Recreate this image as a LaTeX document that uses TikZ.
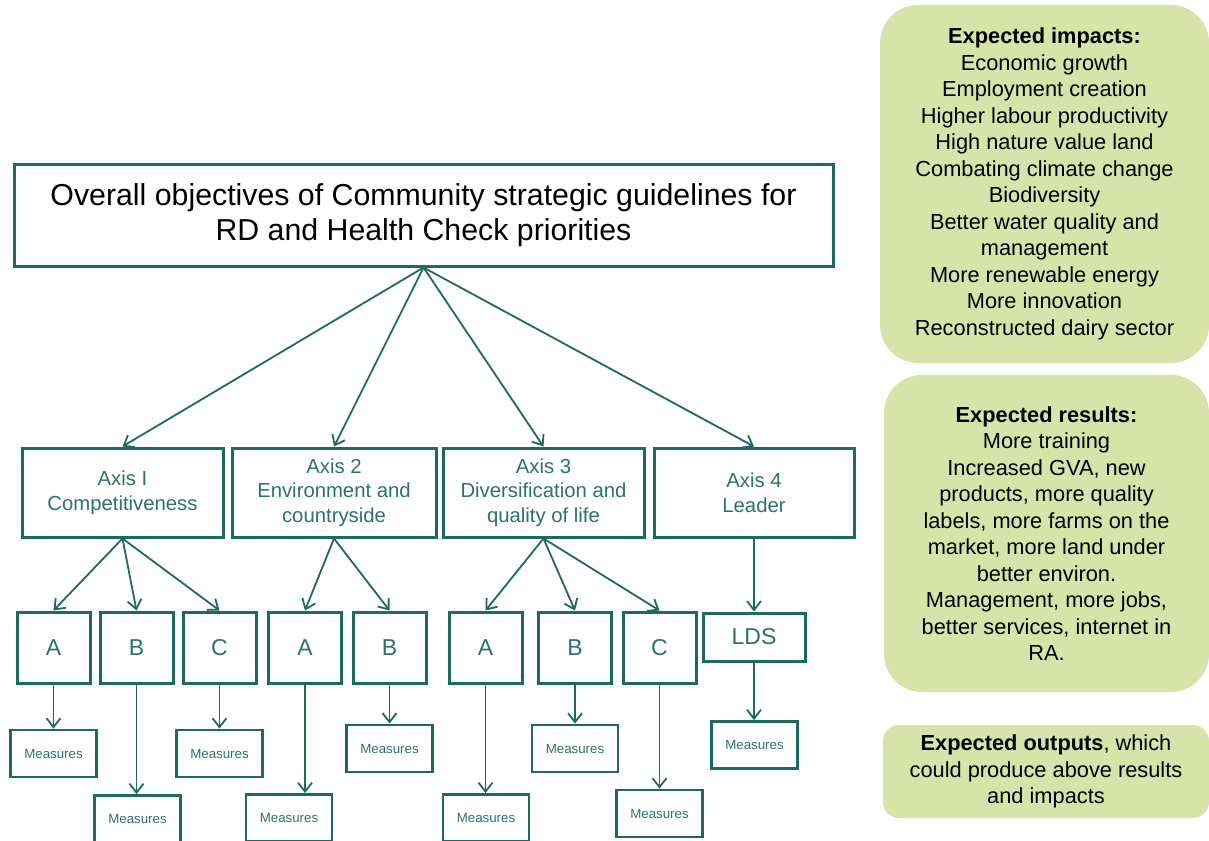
\documentclass[tikz,border=0pt]{standalone}
\usepackage{fontspec}
\setmainfont{Liberation Sans}
\usetikzlibrary{positioning}
\usetikzlibrary{arrows.meta}
\definecolor{tealline}{HTML}{1D6A60}
\definecolor{tealtext}{HTML}{2B7369}
\definecolor{limefill}{HTML}{D7E4A9}

\begin{document}
\begin{tikzpicture}[x=1pt,y=-1pt,
    box/.style={draw=tealline, line width=3pt, inner sep=0pt, text=tealtext, align=center},
    axisbox/.style={box, minimum width=201pt, minimum height=89pt, font=\fontsize{20.3}{24.5}\selectfont},
    letterbox/.style={box, minimum width=73pt, minimum height=71pt, font=\fontsize{23}{27}\selectfont},
    measbox/.style={box, line width=2.8pt, minimum width=86pt, minimum height=47pt, font=\fontsize{13.3}{15}\selectfont},
    greenbox/.style={fill=limefill, rounded corners=38pt, inner sep=0pt, align=center, font=\fontsize{21.8}{26.5}\selectfont},
    arr/.style={draw=tealline, line width=1.8pt, -{Straight Barb[length=9pt,width=14pt]}}]
    \useasboundingbox (0,0) rectangle (1209,840);
    \clip (0,0) rectangle (1209,840);
    % top box
    \node[box, text=black, minimum width=819pt, minimum height=102pt, font=\fontsize{30.3}{35}\selectfont] (top) at (423.5,215) {Overall objectives of Community strategic guidelines for\\RD and Health Check priorities};
    % axes
    \node[axisbox] (ax1) at (122.5,492.5) {Axis I\\Competitiveness};
    \node[axisbox, minimum width=204pt] (ax2) at (334,492.5) {Axis 2\\Environment and\\countryside};
    \node[axisbox] (ax3) at (543.5,492.5) {Axis 3\\Diversification and\\quality of life};
    \node[axisbox, minimum width=200pt] (ax4) at (754,492.5) {Axis 4\\Leader};
    % measure groups
    \node[letterbox] (a1) at (53.5,647.5) {A};
    \node[letterbox] (b1) at (136.5,647.5) {B};
    \node[letterbox] (c1) at (219.5,647.5) {C};
    \node[letterbox] (a2) at (305,647.5) {A};
    \node[letterbox] (b2) at (389.5,647.5) {B};
    \node[letterbox] (a3) at (485.5,647.5) {A};
    \node[letterbox] (b3) at (575,647.5) {B};
    \node[letterbox] (c3) at (659.5,647.5) {C};
    \node[letterbox, minimum width=102pt, minimum height=48pt] (lds) at (754,637) {LDS};
    % measures
    \node[measbox] (ma1) at (53.5,753.5) {Measures};
    \node[measbox] (mb1) at (137.5,819) {Measures};
    \node[measbox] (mc1) at (219.5,753.5) {Measures};
    \node[measbox] (ma2) at (289,818) {Measures};
    \node[measbox] (mb2) at (389.5,748.5) {Measures};
    \node[measbox] (ma3) at (486,818) {Measures};
    \node[measbox] (mb3) at (575,748.5) {Measures};
    \node[measbox] (mc3) at (659.5,813.5) {Measures};
    \node[measbox] (mlds) at (754.5,745) {Measures};
    % expected effects
    \node[greenbox, minimum width=329pt, minimum height=358pt] (impacts) at (1044.5,184) {\textbf{Expected impacts:}\\Economic growth\\Employment creation\\Higher labour productivity\\High nature value land\\Combating climate change\\Biodiversity\\Better water quality and\\management\\More renewable energy\\More innovation\\Reconstructed dairy sector};
    \node[greenbox, minimum width=325pt, minimum height=317pt] (results) at (1046.5,533.5) {\textbf{Expected results:}\\More training\\Increased GVA, new\\products, more quality\\labels, more farms on the\\market, more land under\\better environ.\\Management, more jobs,\\better services, internet in\\RA.};
    \node[greenbox, rounded corners=16pt, minimum width=326pt, minimum height=93pt] (outputs) at (1046,771.5) {\textbf{Expected outputs}, which\\could produce above results\\and impacts};
    % arrows
    \draw[arr] (top.south) -- (ax1.north);
    \draw[arr] (top.south) -- (ax2.north);
    \draw[arr] (top.south) -- (ax3.north);
    \draw[arr] (top.south) -- (ax4.north);
    \draw[arr] (ax1.south) -- (a1.north);
    \draw[arr] (ax1.south) -- (b1.north);
    \draw[arr] (ax1.south) -- (c1.north);
    \draw[arr] (ax2.south) -- (a2.north);
    \draw[arr] (ax2.south) -- (b2.north);
    \draw[arr] (ax3.south) -- (a3.north);
    \draw[arr] (ax3.south) -- (b3.north);
    \draw[arr] (ax3.south) -- (c3.north);
    \draw[arr] (ax4.south) -- (lds.north);
    \draw[arr] (a1.south) -- (a1.south |- ma1.north);
    \draw[arr] (b1.south) -- (b1.south |- mb1.north);
    \draw[arr] (c1.south) -- (c1.south |- mc1.north);
    \draw[arr] (a2.south) -- (a2.south |- ma2.north);
    \draw[arr] (b2.south) -- (b2.south |- mb2.north);
    \draw[arr] (a3.south) -- (a3.south |- ma3.north);
    \draw[arr] (b3.south) -- (b3.south |- mb3.north);
    \draw[arr] (c3.south) -- (c3.south |- mc3.north);
    \draw[arr] (lds.south) -- (lds.south |- mlds.north);
\end{tikzpicture}
\end{document}
